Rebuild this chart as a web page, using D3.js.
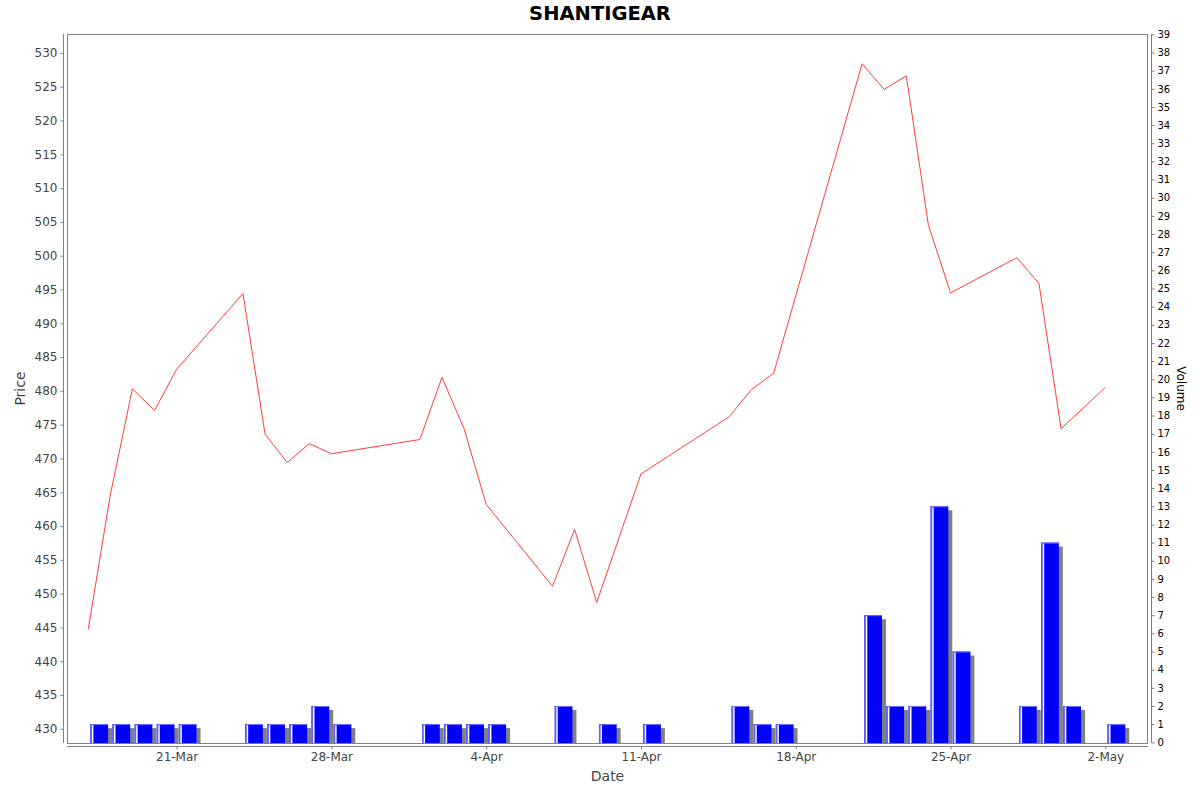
<!DOCTYPE html>
<html>
<head>
<meta charset="utf-8">
<script src="https://cdn.jsdelivr.net/npm/d3@7"></script>
<style>
  body { margin: 0; background: #fff; }
  svg { display: block; font-family: "DejaVu Sans", sans-serif; }
</style>
</head>
<body>
<svg id="chart" width="1200" height="792"></svg>
<script>
// trading days (2025)
var dates = ["2025-03-17", "2025-03-18", "2025-03-19", "2025-03-20", "2025-03-21",
             "2025-03-24", "2025-03-25", "2025-03-26", "2025-03-27", "2025-03-28",
             "2025-04-01", "2025-04-02", "2025-04-03", "2025-04-04",
             "2025-04-07", "2025-04-08", "2025-04-09", "2025-04-11",
             "2025-04-15", "2025-04-16", "2025-04-17",
             "2025-04-21", "2025-04-22", "2025-04-23", "2025-04-24", "2025-04-25",
             "2025-04-28", "2025-04-29", "2025-04-30", "2025-05-02"];

var prices = [444.7, 464.6, 480.3, 477.1, 483.2,
              494.4, 473.6, 469.4, 472.2, 470.7,
              472.8, 482.0, 474.4, 463.2,
              451.1, 459.5, 448.7, 467.7,
              476.2, 480.2, 482.6,
              528.4, 524.6, 526.6, 504.5, 494.5,
              499.7, 495.9, 474.4, 480.5];

var volumes = [1, 1, 1, 1, 1,
               1, 1, 1, 2, 1,
               1, 1, 1, 1,
               2, 0, 1, 1,
               2, 1, 1,
               7, 2, 2, 13, 5,
               2, 11, 2, 1];

var dateTicks = ["2025-03-21", "2025-03-28", "2025-04-04", "2025-04-11",
                 "2025-04-18", "2025-04-25", "2025-05-02"];

var priceTicks = d3.range(430, 531, 5);
var volumeTicks = d3.range(0, 40, 1);

var parse = d3.utcParse("%Y-%m-%d");
var fmt = d3.utcFormat("%-d-%b");
var DAY = 864e5;

var svg = d3.select("#chart");
var L = 67, R = 1148, T = 34, B = 743;

var x = d3.scaleUtc()
    .domain([new Date(Date.UTC(2025, 2, 16, 1)), new Date(Date.UTC(2025, 4, 3, 22, 20))])
    .range([L, R]);
var yP = d3.scaleLinear().domain([427.9, 532.8]).range([B, T]);
var yV = d3.scaleLinear().domain([-0.04, 39.02]).range([B, T]);

var data = dates.map(function(d, i) {
    return {date: parse(d), price: prices[i], vol: volumes[i]};
});

svg.append("text")
    .attr("x", 600).attr("y", 20)
    .attr("text-anchor", "middle")
    .style("font-size", "19.5px").style("font-weight", "bold")
    .text("SHANTIGEAR");

svg.append("clipPath").attr("id", "plotclip")
    .append("rect").attr("x", L).attr("y", T).attr("width", R - L).attr("height", B - T);

var plot = svg.append("g").attr("clip-path", "url(#plotclip)");

// volume bars
var bars = data.filter(d => d.vol > 0);
var bx0 = d => x(+d.date + 0.1 * DAY);
var bw = d => x(+d.date + 0.9 * DAY) - x(+d.date + 0.1 * DAY);
var bg = plot.selectAll(".bar").data(bars).enter().append("g").attr("class", "bar");
bg.append("rect")
    .attr("x", d => bx0(d) + 4)
    .attr("y", d => yV(d.vol) + 4)
    .attr("width", bw)
    .attr("height", d => Math.max(0, yV(0) - yV(d.vol)))
    .attr("fill", "#808080");
bg.append("rect")
    .attr("x", bx0)
    .attr("y", d => yV(d.vol))
    .attr("width", bw)
    .attr("height", d => yV(0) - yV(d.vol) + 2)
    .attr("fill", "#0000ff");
bg.append("rect")
    .attr("x", bx0)
    .attr("y", d => yV(d.vol))
    .attr("width", bw)
    .attr("height", 1)
    .attr("fill", "#7070ff");
bg.append("rect")
    .attr("x", bx0)
    .attr("y", d => yV(d.vol))
    .attr("width", 1.5)
    .attr("height", d => yV(0) - yV(d.vol) + 2)
    .attr("fill", "#6060ff");
bg.append("rect")
    .attr("x", d => bx0(d) + 1.5)
    .attr("y", d => yV(d.vol) + 1)
    .attr("width", 1.5)
    .attr("height", d => yV(0) - yV(d.vol) + 2)
    .attr("fill", "#ffffff");

// price line
plot.append("path")
    .datum(data)
    .attr("fill", "none")
    .attr("stroke", "#ff3c3c")
    .attr("stroke-width", 1)
    .attr("d", d3.line().x(d => x(d.date)).y(d => yP(d.price)));

// plot frame
svg.append("rect")
    .attr("x", L + 0.5).attr("y", T + 0.5)
    .attr("width", R - L - 1).attr("height", B - T)
    .attr("fill", "none").attr("stroke", "#808080");

// axes
function styleAxis(g, color, size) {
    g.selectAll("path, line").attr("stroke", "#808080");
    g.selectAll("text").attr("fill", color).style("font-size", size)
        .style("font-family", "DejaVu Sans, sans-serif");
}

var gl = svg.append("g").attr("transform", "translate(63.5,0)")
    .call(d3.axisLeft(yP).tickValues(priceTicks).tickSize(3).tickSizeOuter(0).tickPadding(3));
gl.select(".domain").attr("d", "M0," + T + "V" + B);
styleAxis(gl, "#444", "12px");

var gr = svg.append("g").attr("transform", "translate(1151.5,0)")
    .call(d3.axisRight(yV).tickValues(volumeTicks).tickSize(3).tickSizeOuter(0).tickPadding(3));
gr.select(".domain").attr("d", "M0," + T + "V" + B);
styleAxis(gr, "#000", "10px");

var gb = svg.append("g").attr("transform", "translate(0,746.5)")
    .call(d3.axisBottom(x).tickValues(dateTicks.map(parse)).tickFormat(fmt)
        .tickSize(3).tickSizeOuter(0).tickPadding(3));
gb.select(".domain").attr("d", "M" + L + ",0H" + R);
styleAxis(gb, "#444", "12px");

svg.append("text")
    .attr("x", (L + R) / 2).attr("y", 781)
    .attr("text-anchor", "middle")
    .attr("fill", "#444")
    .style("font-size", "14px")
    .text("Date");

svg.append("text")
    .attr("transform", "translate(25," + (T + B) / 2 + ") rotate(-90)")
    .attr("text-anchor", "middle")
    .attr("fill", "#444")
    .style("font-size", "14px")
    .text("Price");

svg.append("text")
    .attr("transform", "translate(1177," + (T + B) / 2 + ") rotate(90)")
    .attr("text-anchor", "middle")
    .attr("fill", "#000")
    .style("font-size", "12px")
    .text("Volume");
</script>
</body>
</html>
